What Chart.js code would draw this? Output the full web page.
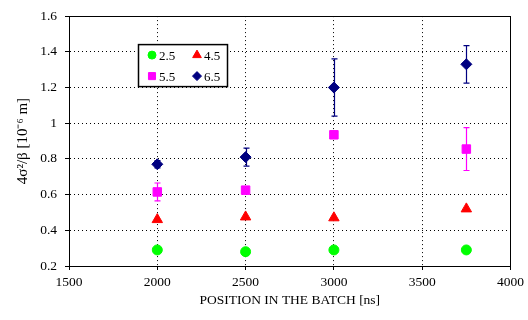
<!DOCTYPE html>
<html><head><meta charset="utf-8">
<script src="https://cdn.jsdelivr.net/npm/chart.js@4"></script>
<style>html,body{margin:0;padding:0;background:#fff}#wrap{width:528px;height:320px}</style>
</head><body><div id="wrap"><canvas id="c" width="528" height="320"></canvas></div>
<script>
const positions = [2000, 2500, 3000, 3750];
const labels = ['2.5', '4.5', '5.5', '6.5'];
const s25 = [0.29, 0.28, 0.29, 0.29];
const s45 = [0.46, 0.475, 0.47, 0.52];
const s55 = [0.615, 0.625, 0.935, 0.855];
const s65 = [0.77, 0.81, 1.20, 1.33];
const err25 = [0, 0, 0, 0];
const err45 = [0, 0, 0, 0];
const err55 = [0.05, 0, 0, 0.12];
const err65 = [0.02, 0.05, 0.16, 0.105];
const xTicks = [1500, 2000, 2500, 3000, 3500, 4000];
const yTicks = [0.2, 0.4, 0.6, 0.8, 1.0, 1.2, 1.4, 1.6];

const colors = ['#00ff00', '#ff0000', '#ff00ff', '#000080'];
const styles = ['circle', 'triangle', 'rect', 'rectRot'];
const radii = [5, 6, 6, 5.5];
const series = [s25, s45, s55, s65];
const errs = [err25, err45, err55, err65];
const FONT = "'Liberation Serif', 'Times New Roman', serif";

const datasets = series.map((s, i) => ({
  label: labels[i],
  data: positions.map((x, j) => ({x: x, y: s[j]})),
  err: errs[i],
  showLine: false,
  pointStyle: styles[i],
  pointRadius: radii[i],
  pointHoverRadius: radii[i],
  backgroundColor: colors[i],
  borderColor: colors[i],
  borderWidth: 1
}));

const errorBars = {
  id: 'errorBars',
  beforeDatasetsDraw(chart) {
    const ctx = chart.ctx, xs = chart.scales.x, ys = chart.scales.y;
    ctx.save();
    chart.data.datasets.forEach(ds => {
      ds.data.forEach((p, j) => {
        const e = ds.err[j];
        if (!e) return;
        const px = Math.round(xs.getPixelForValue(p.x)) + 0.5;
        const y1 = ys.getPixelForValue(p.y + e), y2 = ys.getPixelForValue(p.y - e);
        ctx.strokeStyle = ds.borderColor; ctx.lineWidth = 1.2;
        ctx.beginPath();
        ctx.moveTo(px, y1); ctx.lineTo(px, y2);
        ctx.moveTo(px - 3, y1); ctx.lineTo(px + 3, y1);
        ctx.moveTo(px - 3, y2); ctx.lineTo(px + 3, y2);
        ctx.stroke();
      });
    });
    ctx.restore();
  }
};

const frame = {
  id: 'frame',
  afterDatasetsDraw(chart) {
    const ctx = chart.ctx, a = chart.chartArea;
    ctx.save();
    ctx.setLineDash([]);
    ctx.strokeStyle = '#000'; ctx.lineWidth = 1;
    ctx.strokeRect(Math.round(a.left) + 0.5, Math.round(a.top) + 0.5, Math.round(a.right - a.left) - 1, Math.round(a.bottom - a.top));
    // legend box
    const lx = a.left + 69, ly = a.top + 28, lw = 89, lh = 42;
    ctx.fillStyle = '#fff';
    ctx.fillRect(lx, ly, lw, lh);
    ctx.lineWidth = 1.5;
    ctx.strokeRect(lx + 0.5, ly + 0.5, lw, lh);
    ctx.font = '13px ' + FONT;
    ctx.textBaseline = 'middle';
    const pos = [[lx + 14, ly + 11], [lx + 59, ly + 11], [lx + 14, ly + 32], [lx + 59, ly + 32]];
    chart.data.datasets.forEach((ds, i) => {
      const [mx, my] = pos[i];
      ctx.fillStyle = ds.backgroundColor; ctx.strokeStyle = ds.borderColor; ctx.lineWidth = 1;
      Chart.helpers.drawPoint(ctx, {pointStyle: ds.pointStyle, radius: ds.pointRadius - 1, borderWidth: 1}, mx, my);
      ctx.fillStyle = '#000';
      ctx.fillText(ds.label, mx + 7, my + 1);
    });
    ctx.restore();
  }
};

new Chart(document.getElementById('c'), {
  type: 'scatter',
  data: {datasets},
  plugins: [errorBars, frame],
  options: {
    responsive: false, animation: false, devicePixelRatio: 1,
    layout: {padding: {left: 0, right: 16, top: 14, bottom: 0}},
    plugins: {legend: {display: false}, tooltip: {enabled: false}},
    scales: {
      x: {
        type: 'linear', min: 1500, max: 4000,
        afterBuildTicks: s => { s.ticks = xTicks.map(v => ({value: v})); },
        afterFit: s => { s.height = 54; },
        grid: {color: '#000', lineWidth: 1, tickLength: 4, tickColor: '#000', drawOnChartArea: true},
        border: {display: true, color: '#000', dash: [1, 3]},
        ticks: {color: '#000', font: {family: FONT, size: 13.5}, padding: 4, maxRotation: 0, callback: v => String(v)},
        title: {display: true, text: 'POSITION IN THE BATCH [ns]', color: '#000', font: {family: FONT, size: 13.5}, padding: {top: 0, bottom: 11}}
      },
      y: {
        min: 0.2, max: 1.6,
        afterBuildTicks: s => { s.ticks = yTicks.map(v => ({value: v})); },
        afterFit: s => { s.width = 69; },
        grid: {color: '#000', lineWidth: 1, tickLength: 4, tickColor: '#000'},
        border: {display: true, color: '#000', dash: [1, 3]},
        ticks: {color: '#000', font: {family: FONT, size: 13.5}, padding: 8, callback: v => String(+v.toFixed(1))},
        title: {display: true, text: '4σ²/β [10⁻⁶ m]', color: '#000', font: {family: FONT, size: 15}, padding: {top: 14, bottom: 2}}
      }
    }
  }
});
</script>
</body></html>
